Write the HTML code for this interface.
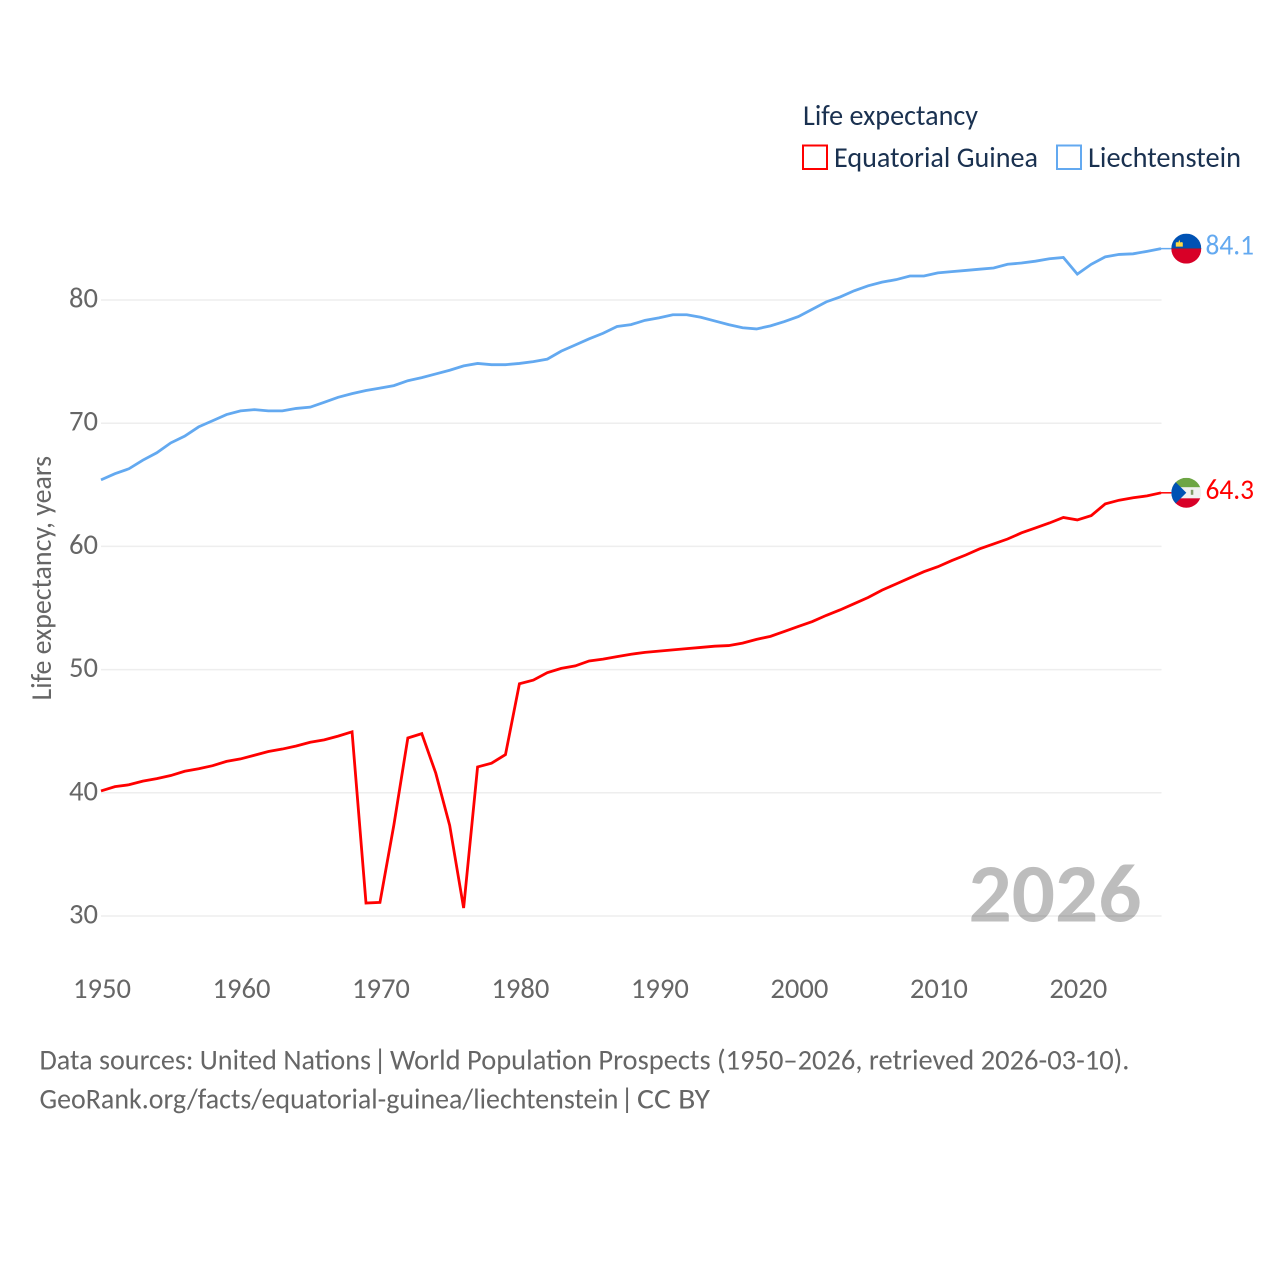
<!DOCTYPE html>
<html lang="en">
<head>
<meta charset="utf-8">
<title>Life expectancy: Equatorial Guinea and Liechtenstein</title>
<style>
html,body{margin:0;padding:0;background:#fff;}
svg{display:block;}
text{font-family:"Carlito","Liberation Sans",sans-serif;}
</style>
</head>
<body>
<svg id="chart" xmlns="http://www.w3.org/2000/svg" width="1280" height="1280" viewBox="0 0 1280 1280">
  <defs>
    <clipPath id="flag-clip"><circle cx="0" cy="0" r="15"></circle></clipPath>
  </defs>
  <rect width="1280" height="1280" fill="#ffffff"></rect>
  <g id="grid"></g>
  <g id="y-ticks"></g>
  <g id="x-ticks"></g>
  <text transform="translate(51,700.5) rotate(-90)" font-size="28.6" fill="#666666" textLength="244.5" lengthAdjust="spacingAndGlyphs">Life expectancy, years</text>
  <text x="968.5" y="921.5" font-size="83" font-weight="700" fill="#000000" fill-opacity="0.26" textLength="173" lengthAdjust="spacingAndGlyphs">2026</text>
  <g id="series"></g>

  <g id="flag-gq" clip-path="url(#flag-clip)">
    <rect x="-15" y="-15" width="30" height="9.500" fill="#6da544"></rect>
    <rect x="-15" y="-5.500" width="30" height="11" fill="#f0f0f0"></rect>
    <rect x="-15" y="5.500" width="30" height="10" fill="#d80027"></rect>
    <polygon points="-15,-15 0,0 -15,15" fill="#0052b4"></polygon>
    <rect x="4.500" y="-3" width="2.500" height="5" fill="#7f9a66"></rect>
  </g>
  <g id="flag-li" clip-path="url(#flag-clip)">
    <rect x="-15" y="-15" width="30" height="15" fill="#0052b4"></rect>
    <rect x="-15" y="0" width="30" height="15" fill="#d80027"></rect>
    <rect x="-15" y="-0.500" width="30" height="1" fill="#7a2a4a"></rect>
    <path d="M-10.500,-2 L-10.500,-6 Q-9,-7 -8,-6 L-7,-9 L-6,-6 Q-5,-7 -3.500,-6 L-3.500,-2 Z" fill="#ffda44"></path>
  </g>

  <text x="803" y="125" font-size="28.6" fill="#1a3150" textLength="175" lengthAdjust="spacingAndGlyphs">Life expectancy</text>
  <rect x="803" y="145.500" width="24" height="23.500" fill="none" stroke="#ff0000" stroke-width="2"></rect>
  <text x="834" y="167" font-size="28.6" fill="#1a3150" textLength="204" lengthAdjust="spacingAndGlyphs">Equatorial Guinea</text>
  <rect x="1057" y="145.500" width="24" height="23.500" fill="none" stroke="#63a9f0" stroke-width="2"></rect>
  <text x="1088" y="167" font-size="28.6" fill="#1a3150" textLength="153" lengthAdjust="spacingAndGlyphs">Liechtenstein</text>

  <g font-size="28.6" fill="#666666">
    <text x="39.500" y="1069.500" textLength="331.5" lengthAdjust="spacingAndGlyphs">Data sources: United Nations</text>
    <text x="373.500" y="1069.500">|</text>
    <text x="390" y="1069.500" textLength="739.5" lengthAdjust="spacingAndGlyphs">World Population Prospects (1950–2026, retrieved 2026-03-10).</text>
  </g>
  <g font-size="28.6" fill="#666666">
    <text x="39.500" y="1108.500" textLength="579" lengthAdjust="spacingAndGlyphs">GeoRank.org/facts/equatorial-guinea/liechtenstein</text>
    <text x="620.500" y="1108.500">|</text>
    <text x="637" y="1108.500" textLength="73" lengthAdjust="spacingAndGlyphs">CC BY</text>
  </g>
</svg>
<script>
const years = [1950,1951,1952,1953,1954,1955,1956,1957,1958,1959,1960,1961,1962,1963,1964,1965,1966,1967,1968,1969,1970,1971,1972,1973,1974,1975,1976,1977,1978,1979,1980,1981,1982,1983,1984,1985,1986,1987,1988,1989,1990,1991,1992,1993,1994,1995,1996,1997,1998,1999,2000,2001,2002,2003,2004,2005,2006,2007,2008,2009,2010,2011,2012,2013,2014,2015,2016,2017,2018,2019,2020,2021,2022,2023,2024,2025,2026];
const equatorialGuinea = [40.15,40.5,40.65,40.95,41.15,41.4,41.75,41.95,42.2,42.55,42.75,43.05,43.35,43.55,43.8,44.1,44.3,44.6,44.95,31.05,31.1,37.4,44.45,44.8,41.6,37.35,30.65,42.1,42.4,43.1,48.85,49.15,49.75,50.1,50.3,50.7,50.85,51.05,51.25,51.4,51.5,51.6,51.7,51.8,51.9,51.95,52.15,52.45,52.7,53.1,53.5,53.9,54.4,54.85,55.35,55.85,56.45,56.95,57.45,57.95,58.35,58.85,59.3,59.8,60.2,60.6,61.1,61.5,61.9,62.35,62.15,62.5,63.45,63.75,63.95,64.1,64.35];
const liechtenstein = [65.4,65.9,66.3,67.0,67.6,68.4,68.95,69.7,70.2,70.7,71.0,71.1,71.0,71.0,71.2,71.3,71.7,72.1,72.4,72.65,72.85,73.05,73.45,73.7,74.0,74.3,74.65,74.85,74.75,74.75,74.85,75.0,75.2,75.85,76.35,76.85,77.3,77.85,78.0,78.35,78.55,78.8,78.8,78.6,78.3,78.0,77.75,77.65,77.9,78.25,78.65,79.25,79.85,80.25,80.75,81.15,81.45,81.65,81.95,81.95,82.2,82.3,82.4,82.5,82.6,82.9,83.0,83.15,83.35,83.45,82.1,82.9,83.5,83.7,83.75,83.95,84.17];
const yTickValues = [30,40,50,60,70,80];
const xTickValues = [1950,1960,1970,1980,1990,2000,2010,2020];

const NS = 'http://www.w3.org/2000/svg';
const xScale = function (year) { return 101 + (year - 1950) * (1161 - 101) / 76; };
const yScale = function (value) { return 916 - (value - 30) * 12.32; };

function make(tag, parent, attrs) {
  const el = document.createElementNS(NS, tag);
  Object.keys(attrs).forEach(function (k) { el.setAttribute(k, attrs[k]); });
  parent.appendChild(el);
  return el;
}

const gridGroup = document.getElementById('grid');
const yTickGroup = document.getElementById('y-ticks');
const xTickGroup = document.getElementById('x-ticks');
const seriesGroup = document.getElementById('series');
const svgRoot = document.getElementById('chart');

yTickValues.forEach(function (v) {
  const line = make('line', gridGroup, {x1: 101, x2: 1161.5, y1: yScale(v), y2: yScale(v), stroke: '#eeeeee', 'stroke-width': 1.5});
  
  
  const label = make('text', yTickGroup, {x: 98, y: yScale(v) + 7.5, 'text-anchor': 'end', 'font-size': 28.6, fill: '#666666'});
  
  
  label.textContent = String(v);
});

xTickValues.forEach(function (y) {
  const label = make('text', xTickGroup, {x: xScale(y) + 1, y: 998, 'text-anchor': 'middle', 'font-size': 28.6, fill: '#666666'});
  
  
  label.textContent = String(y);
});

function drawSeries(values, color, key, flagId) {
  const pts = values.map(function (v, i) { return xScale(years[i]).toFixed(2) + ',' + yScale(v).toFixed(2); }).join(' ');
  const path = make('polyline', seriesGroup, {points: pts, fill: 'none', stroke: color, 'stroke-width': 2.8, 'stroke-linejoin': 'miter'});
  
  
  const last = values[values.length - 1];
  const endY = yScale(last);
  const lead = make('line', seriesGroup, {x1: 1161, x2: 1172, y1: endY, y2: endY, stroke: color, 'stroke-width': 1.5});
  
  
  document.getElementById(flagId).setAttribute('transform', 'translate(1186.3,' + endY.toFixed(2) + ')');
  const label = make('text', svgRoot, {x: 1205.5, y: endY + 6, 'font-size': 28.6, fill: color, textLength: 48.5, lengthAdjust: 'spacingAndGlyphs'});
  
  
  label.textContent = (Math.floor(last * 10) / 10).toFixed(1);
}

drawSeries(equatorialGuinea, '#ff0000', 'equatorial-guinea', 'flag-gq');
drawSeries(liechtenstein, '#63a9f0', 'liechtenstein', 'flag-li');
</script>
</body>
</html>
